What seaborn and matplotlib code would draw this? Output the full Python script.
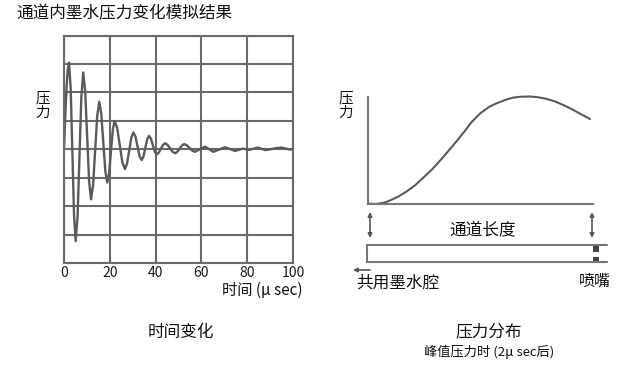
import matplotlib
matplotlib.use("Agg")
import matplotlib.pyplot as plt
import seaborn as sns
import pandas as pd

# ---- data ----
# left: pressure vs time (μs), damped oscillation
time_us = [0, 0.55, 1.1, 1.65, 2.2,
           2.925, 3.65, 4.375, 5.1,
           5.925, 6.75, 7.575, 8.4,
           9.25, 10.1, 10.95, 11.8,
           12.7, 13.6, 14.5, 15.4,
           16.275, 17.15, 18.025, 18.9,
           19.7, 20.5, 21.3, 22.1,
           23.225, 24.35, 25.475, 26.6,
           27.525, 28.45, 29.375, 30.3,
           31.2, 32.1, 33.0, 33.9,
           34.7, 35.5, 36.3, 37.1,
           37.95, 38.8, 39.65, 40.5,
           41.4, 42.3, 43.2, 44.1,
           45.2, 46.3, 47.4, 48.5,
           49.5, 50.5, 51.5, 52.5,
           53.675, 54.85, 56.025, 57.2,
           59.4, 61.6, 63.4, 65.2, 67.75, 70.3, 72.5, 74.7,
           78.0, 81.0, 84.6, 88.0, 91.5, 94.8, 98.7, 100]
pressure_t = [0, 1.17, 2.16, 2.82, 3.05,
              2.13, -0.09, -2.31, -3.23,
              -2.36, -0.265, 1.83, 2.7,
              2.05, 0.47, -1.11, -1.76,
              -1.26, -0.045, 1.17, 1.67,
              1.26, 0.25, -0.76, -1.17,
              -0.85, -0.085, 0.68, 1.0,
              0.75, 0.15, -0.45, -0.70,
              -0.51, -0.055, 0.40, 0.59,
              0.45, 0.105, -0.24, -0.38,
              -0.26, 0.045, 0.35, 0.47,
              0.375, 0.145, -0.085, -0.18,
              -0.12, 0.015, 0.15, 0.21,
              0.16, 0.035, -0.09, -0.14,
              -0.09, 0.02, 0.13, 0.18,
              0.14, 0.045, -0.05, -0.09,
              0.0, 0.09, 0.0, -0.09, -0.01, 0.07, 0.005, -0.06,
              0.02, -0.02, 0.06, -0.03, 0.02, 0.06, -0.01, 0.0]
time_ticks = [0, 20, 40, 60, 80, 100]

# right: pressure distribution along channel (normalised position)
position = [0.0, 0.031, 0.05, 0.076, 0.1, 0.135, 0.17, 0.209, 0.245, 0.283,
            0.32, 0.357, 0.395, 0.431, 0.46, 0.50, 0.54, 0.57, 0.61, 0.646,
            0.68, 0.72, 0.755, 0.79, 0.83, 0.868, 0.905, 0.942, 0.987]
pressure_x = [0.0, -0.005, 0.0, 0.01, 0.03, 0.065, 0.11, 0.17, 0.24, 0.315,
              0.40, 0.49, 0.585, 0.68, 0.76, 0.845, 0.905, 0.935, 0.968, 0.99,
              0.998, 1.0, 0.993, 0.98, 0.955, 0.92, 0.883, 0.84, 0.79]

title = "通道内墨水压力变化模拟结果"
ylab = "压\n力"
xlab_left = "时间 (μ sec)"
cap_left = "时间变化"
cap_right = "压力分布"
cap_right2 = "峰值压力时 (2μ sec后)"
channel_txt = "通道长度"
chamber_txt = "共用墨水腔"
nozzle_txt = "喷嘴"

# ---- style ----
sns.set_style("white")
plt.rcParams['font.family'] = ['Noto Sans CJK SC', 'DejaVu Sans']

W, H = 628, 379
fig = plt.figure(figsize=(W / 100, H / 100), dpi=100)
GRID = "#6a6a6a"
LINE = "#5a5a5a"

def fx(px):
    return px / W

def fy(py):
    return 1 - py / H

# left chart
axL = fig.add_axes([fx(64), fy(263), 229 / W, 227.5 / H])
dfL = pd.DataFrame({"t": time_us, "p": pressure_t})
sns.lineplot(data=dfL, x="t", y="p", ax=axL, color=LINE, lw=1.7,
             estimator=None, sort=False)
axL.set_xlim(0, 100)
axL.set_ylim(-4, 4)
axL.set_xticks(time_ticks)
axL.set_xticklabels([str(v) for v in time_ticks])
axL.set_yticks(range(-4, 5))
axL.set_yticklabels([])
axL.grid(True, color=GRID, lw=1.5)
axL.set_axisbelow(True)
axL.tick_params(length=0, labelsize=10, pad=2, colors="#1a1a1a")
for s in axL.spines.values():
    s.set_color(GRID)
    s.set_linewidth(1.5)
axL.set_xlabel("")
axL.set_ylabel("")

# right chart
axR = fig.add_axes([fx(368), fy(203.5), 225 / W, 107 / H])
dfR = pd.DataFrame({"x": position, "p": pressure_x})
sns.lineplot(data=dfR, x="x", y="p", ax=axR, color=LINE, lw=1.5,
             estimator=None, sort=False, clip_on=False)
axR.set_xlim(0, 1)
axR.set_ylim(0, 1)
axR.set_xticks([])
axR.set_yticks([])
axR.set_xlabel("")
axR.set_ylabel("")
for side in ["top", "right"]:
    axR.spines[side].set_visible(False)
for side in ["left", "bottom"]:
    axR.spines[side].set_color("#777777")
    axR.spines[side].set_linewidth(1.5)

# overlay for annotations, in pixel coordinates
ov = fig.add_axes([0, 0, 1, 1], zorder=-1)
ov.set_xlim(0, W)
ov.set_ylim(H, 0)
ov.axis("off")

ov.text(16, 14, title, fontsize=12, ha="left", va="center", color="#111")
for xc in (42.5, 345.5):
    ov.text(xc, 106, ylab, fontsize=10.5, ha="center", va="center",
            color="#111", linespacing=1.05)
ov.text(303, 290, xlab_left, fontsize=11, ha="right", va="center", color="#111")
ov.text(181, 332, cap_left, fontsize=12, ha="center", va="center", color="#111")
ov.text(489, 332, cap_right, fontsize=12, ha="center", va="center", color="#111")
ov.text(489, 352, cap_right2, fontsize=9.5, ha="center", va="center", color="#111")
ov.text(483, 230.5, channel_txt, fontsize=12, ha="center", va="center", color="#111")
ov.text(398, 283, chamber_txt, fontsize=12, ha="center", va="center", color="#111")
ov.text(595, 281.5, nozzle_txt, fontsize=11.5, ha="center", va="center", color="#111")

# double arrows
for xa in (370, 592):
    ov.annotate("", xy=(xa, 212), xytext=(xa, 238),
                arrowprops=dict(arrowstyle="<|-|>", color="#555", lw=1.2,
                                mutation_scale=6, shrinkA=0, shrinkB=0))
# left arrow to chamber
ov.annotate("", xy=(353, 270), xytext=(370, 270),
            arrowprops=dict(arrowstyle="-|>", color="#555", lw=1.2,
                            mutation_scale=6, shrinkA=0, shrinkB=0))
# channel
ov.plot([607, 367, 367, 607], [245, 245, 261.7, 261.7], color="#777", lw=1.5,
        solid_joinstyle="miter")
# nozzle squares
ov.fill([593, 599, 599, 593], [246, 246, 251.7, 251.7], color="#444", lw=0)
ov.fill([593, 599, 599, 593], [256.7, 256.7, 262.3, 262.3], color="#444", lw=0)

fig.savefig("out.png", dpi=100)
